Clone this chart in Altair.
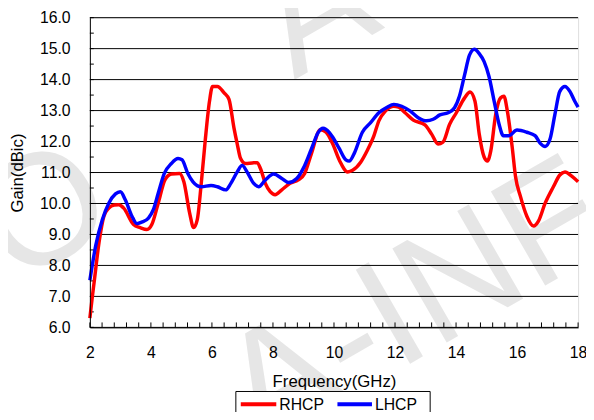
import altair as alt
import pandas as pd
import numpy as np

# ---- data ----
rhcp_freq = [2.00, 2.07, 2.14, 2.30, 2.46, 2.62, 2.80, 2.95, 3.11, 3.43, 3.65, 3.87, 4.03, 4.24, 4.46,
             4.67, 4.94, 5.08, 5.27, 5.40, 5.52, 5.65, 5.78, 5.92, 6.02, 6.18, 6.40, 6.56, 6.72, 6.83,
             6.94, 7.10, 7.32, 7.48, 7.59, 7.75, 7.91, 8.07, 8.29, 8.56, 8.83, 9.04, 9.26, 9.55, 9.74,
             9.96, 10.18, 10.45, 10.61, 10.88, 11.09, 11.31, 11.47, 11.69, 11.96, 12.12, 12.33, 12.60,
             12.98, 13.20, 13.41, 13.57, 13.79, 14.01, 14.28, 14.46, 14.62, 14.76, 14.92, 15.03, 15.14,
             15.30, 15.46, 15.57, 15.68, 15.84, 15.95, 16.11, 16.32, 16.54, 16.70, 16.92, 17.19, 17.40,
             17.57, 17.78, 18.00]
rhcp_gain = [6.30, 6.90, 7.46, 8.74, 9.59, 9.85, 9.95, 9.96, 9.85, 9.32, 9.22, 9.16, 9.32, 10.01, 10.76,
             10.95, 10.97, 10.70, 9.69, 9.22, 9.48, 10.65, 12.03, 13.30, 13.78, 13.78, 13.57, 13.36, 12.45, 11.92,
             11.45, 11.29, 11.31, 11.32, 11.13, 10.65, 10.38, 10.28, 10.44, 10.65, 10.76, 10.97, 11.61, 12.38, 12.30,
             11.92, 11.39, 11.02, 11.07, 11.34, 11.71, 12.19, 12.67, 12.99, 13.14, 13.11, 12.93, 12.69,
             12.54, 12.24, 11.92, 11.98, 12.56, 12.93, 13.41, 13.60, 13.30, 12.24, 11.50, 11.37, 11.71,
             12.88, 13.41, 13.46, 12.99, 11.82, 10.86, 10.23, 9.59, 9.27, 9.43, 10.01, 10.54, 10.92,
             11.02, 10.89, 10.70]

lhcp_freq = [2.00, 2.19, 2.41, 2.62, 2.84, 3.00, 3.16, 3.38, 3.54, 3.70, 3.92, 4.08, 4.24, 4.44, 4.67,
             4.89, 5.02, 5.21, 5.38, 5.65, 5.97, 6.18, 6.45, 6.62, 6.83, 6.99, 7.15, 7.37, 7.53, 7.75,
             8.02, 8.29, 8.51, 8.78, 9.04, 9.26, 9.48, 9.64, 9.85, 9.96, 10.18, 10.39, 10.50, 10.66, 10.93,
             11.20, 11.47, 11.74, 11.96, 12.22, 12.49, 12.76, 13.03, 13.25, 13.47, 13.74, 13.95, 14.11,
             14.28, 14.44, 14.60, 14.76, 14.92, 15.08, 15.25, 15.41, 15.55, 15.73, 16.00, 16.32, 16.59,
             16.76, 16.92, 17.08, 17.24, 17.40, 17.57, 17.73, 17.89, 18.00]
lhcp_gain = [7.52, 8.63, 9.48, 10.01, 10.31, 10.38, 10.12, 9.59, 9.35, 9.40, 9.53, 9.80, 10.33, 10.97, 11.29,
             11.45, 11.41, 10.97, 10.70, 10.54, 10.58, 10.54, 10.44, 10.65, 11.02, 11.23, 11.02, 10.65, 10.54, 10.76,
             10.95, 10.81, 10.68, 10.81, 11.23, 11.76, 12.29, 12.43, 12.29, 12.14, 11.76, 11.41, 11.37, 11.61, 12.30,
             12.61, 12.93, 13.11, 13.20, 13.14, 12.99, 12.77, 12.67, 12.72, 12.86, 12.93, 13.09, 13.46,
             14.15, 14.79, 14.98, 14.84, 14.58, 14.10, 13.30, 12.56, 12.19, 12.19, 12.37, 12.30, 12.19,
             11.94, 11.84, 12.08, 12.88, 13.62, 13.78, 13.62, 13.30, 13.11]

series_names = ["RHCP", "LHCP"]
series_colors = ["#ff0000", "#0000ff"]
x_major = [2, 4, 6, 8, 10, 12, 14, 16, 18]
y_major = [6, 7, 8, 9, 10, 11, 12, 13, 14, 15, 16]
x_minor = [round(v, 1) for v in np.arange(2.0, 18.01, 0.4)]
y_minor = [round(v, 1) for v in np.arange(6.0, 16.01, 0.5)]
watermark = "A-INFO"

FONT = "Liberation Sans"
W, H = 495, 314

rh = pd.DataFrame({"freq": rhcp_freq, "gain": rhcp_gain, "series": "RHCP"})
lh = pd.DataFrame({"freq": lhcp_freq, "gain": lhcp_gain, "series": "LHCP"})

xscale = alt.Scale(domain=[2, 18], nice=False, zero=False)
yscale = alt.Scale(domain=[6, 16], nice=False, zero=False)
cscale = alt.Scale(domain=series_names, range=series_colors)

# watermark (behind everything)
wm_df = pd.DataFrame({"label": [watermark]})
def wm(xp, yp):
    return alt.Chart(wm_df).mark_text(
        font=FONT, fontSize=160, color="#e6e6e6", angle=330,
        align="center", baseline="middle"
    ).encode(text="label:N", x=alt.value(xp), y=alt.value(yp))

wm_layers = [wm(384, 261), wm(-227, 304), wm(418, -114)]

xaxis = alt.Axis(values=x_major, title="Frequency(GHz)", grid=False, ticks=False, tickSize=0,
                 labelPadding=18, labelFontSize=16, labelFont=FONT, labelColor="black",
                 titleFont=FONT, titleFontSize=17, titleFontWeight="normal", titleColor="black",
                 titleY=55, titleBaseline="middle", zindex=1,
                 domainColor="black", domainWidth=1, labelFlush=False)
yaxis = alt.Axis(values=y_major, format=".1f", title="Gain(dBic)", grid=False,
                 ticks=False, tickSize=0,
                 labelPadding=20, labelFontSize=16, labelFont=FONT, labelColor="black",
                 titleFont=FONT, titleFontSize=17, titleFontWeight="normal", titleColor="black",
                 titleX=-73, titleBaseline="middle", zindex=1,
                 domainColor="black", domainWidth=1, labelFlush=False)

X = alt.X("freq:Q", scale=xscale, axis=xaxis)
Y = alt.Y("gain:Q", scale=yscale, axis=yaxis)

def line_layer(df):
    return alt.Chart(df).mark_line(strokeWidth=3.5, interpolate="monotone").encode(
        x=X, y=Y,
        color=alt.Color("series:N", scale=cscale, legend=None),
    )

grid = alt.Chart(pd.DataFrame({"gain": y_major})).mark_rule(color="black", strokeWidth=1).encode(
    y=Y, x=alt.value(0), x2=alt.value(W))
xt = alt.Chart(pd.DataFrame({"freq": x_minor})).mark_rule(color="black", strokeWidth=1).encode(
    x=X, y=alt.value(H), y2=alt.value(H - 5))
yt = alt.Chart(pd.DataFrame({"gain": y_minor})).mark_rule(color="black", strokeWidth=1).encode(
    y=Y, x=alt.value(0), x2=alt.value(4))

# legend box drawn below the x-axis title
leg_df = pd.DataFrame({"series": series_names})
leg_box = alt.Chart(pd.DataFrame({"series": ["box"]})).mark_rect(
    fill="white", stroke="black", strokeWidth=1).encode(
    x=alt.value(148), x2=alt.value(345), y=alt.value(379), y2=alt.value(420))
leg_r_line = alt.Chart(leg_df.iloc[[0]]).mark_rule(strokeWidth=4).encode(
    x=alt.value(153), x2=alt.value(189), y=alt.value(392),
    color=alt.Color("series:N", scale=cscale, legend=None))
leg_b_line = alt.Chart(leg_df.iloc[[1]]).mark_rule(strokeWidth=4).encode(
    x=alt.value(251), x2=alt.value(286), y=alt.value(392),
    color=alt.Color("series:N", scale=cscale, legend=None))
leg_r_text = alt.Chart(leg_df.iloc[[0]]).mark_text(
    font=FONT, fontSize=16, align="left", baseline="middle", color="black").encode(
    text="series:N", x=alt.value(192), y=alt.value(393))
leg_b_text = alt.Chart(leg_df.iloc[[1]]).mark_text(
    font=FONT, fontSize=16, align="left", baseline="middle", color="black").encode(
    text="series:N", x=alt.value(289), y=alt.value(393))

chart = alt.layer(
    *wm_layers, grid, xt, yt, line_layer(rh), line_layer(lh),
    leg_box, leg_r_line, leg_b_line, leg_r_text, leg_b_text
).properties(
    width=W, height=H,
    autosize=alt.AutoSizeParams(type="none"),
    padding={"left": 83, "top": 7, "right": 8, "bottom": 83},
).configure_view(
    stroke="black", strokeWidth=1
).configure(background="white")

chart.save("out.html", embed_options={"renderer": "svg", "actions": False})
